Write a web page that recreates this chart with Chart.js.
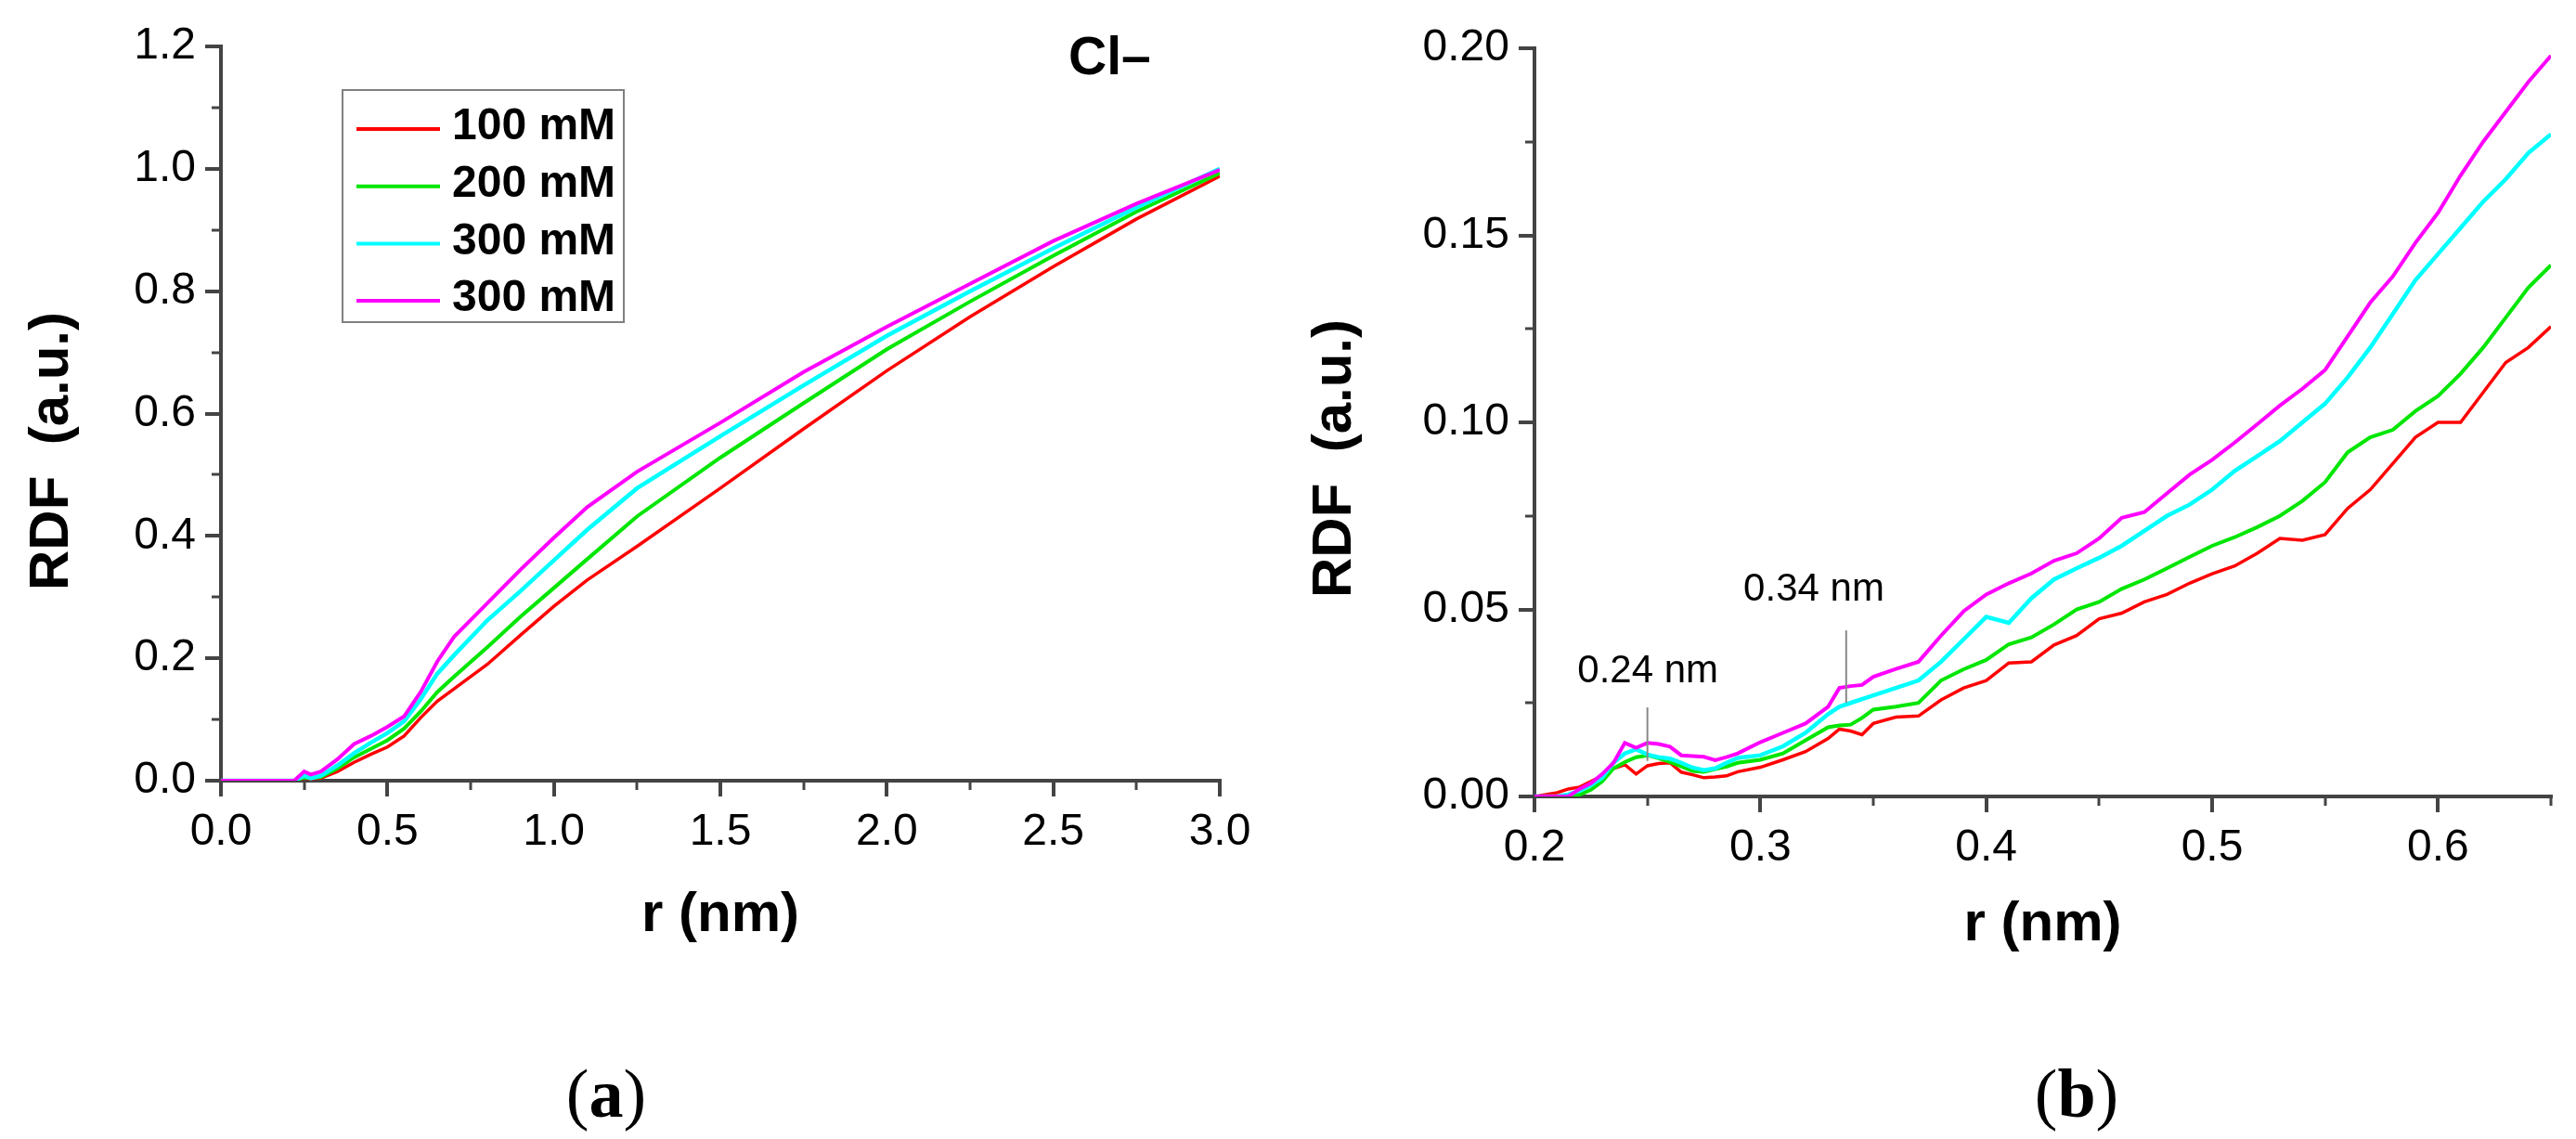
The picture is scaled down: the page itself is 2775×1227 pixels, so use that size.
<!DOCTYPE html>
<html>
<head>
<meta charset="utf-8">
<script src="https://cdn.jsdelivr.net/npm/chart.js@4.4.1/dist/chart.umd.min.js"></script>
<style>
  body { margin: 0; background: #fff; width: 2775px; height: 1227px; position: relative; overflow: hidden; }
  canvas { position: absolute; top: 0; }
  #chartA { left: 0; }
  #chartB { left: 1400px; }
  .cap { position: absolute; top: 1141px; width: 300px; text-align: center;
         font-family: 'Liberation Serif', 'Times New Roman', serif; font-size: 74px; line-height: 74px; color: #000; }
</style>
</head>
<body>
<canvas id="chartA" width="1400" height="1227"></canvas>
<canvas id="chartB" width="1375" height="1227"></canvas>
<div class="cap" style="left:503px">(<b>a</b>)</div>
<div class="cap" style="left:2087px">(<b>b</b>)</div>
<script>
// series names / colours (legend order)
const labels = ['100 mM', '200 mM', '300 mM', '300 mM']
const colors = ['#ff0000', '#00e600', '#00ffff', '#ff00ff']
const widths = [3.5, 4, 4.5, 4]

// (a) full range, r in nm
const rA = [0, 0.2, 0.22, 0.25, 0.27, 0.3, 0.35, 0.4, 0.45, 0.5, 0.55, 0.6, 0.65, 0.7, 0.8, 0.9,
  1.0, 1.1, 1.25, 1.5, 1.75, 2.0, 2.25, 2.5, 2.75, 3.0]
const a100 = [0, 0, 0, 0.004, 0.003, 0.004, 0.015, 0.03, 0.043, 0.055, 0.073, 0.103, 0.13, 0.15, 0.19, 0.238,
  0.285, 0.328, 0.383, 0.478, 0.575, 0.67, 0.758, 0.84, 0.918, 0.988]
const a200 = [0, 0, 0, 0.005, 0.004, 0.006, 0.02, 0.038, 0.052, 0.066, 0.085, 0.113, 0.145, 0.17, 0.218, 0.268,
  0.315, 0.362, 0.432, 0.528, 0.617, 0.705, 0.783, 0.858, 0.93, 0.993]
const a300 = [0, 0, 0, 0.008, 0.004, 0.008, 0.025, 0.045, 0.062, 0.078, 0.097, 0.133, 0.175, 0.205, 0.262, 0.31,
  0.36, 0.41, 0.478, 0.563, 0.646, 0.727, 0.8, 0.87, 0.937, 1.0]
const a300b = [0, 0, 0, 0.015, 0.01, 0.015, 0.035, 0.06, 0.073, 0.088, 0.105, 0.145, 0.195, 0.235, 0.29, 0.345,
  0.397, 0.447, 0.505, 0.585, 0.668, 0.742, 0.812, 0.882, 0.943, 0.998]

// (b) zoom on the first shells
const rB = [0.2, 0.21, 0.215, 0.22, 0.225, 0.23, 0.235, 0.24, 0.245, 0.25, 0.255, 0.26, 0.265, 0.27, 0.275, 0.28,
  0.285, 0.29, 0.3, 0.31, 0.32, 0.33, 0.335, 0.34, 0.345, 0.35, 0.36, 0.37, 0.38, 0.39, 0.4, 0.41, 0.42, 0.43,
  0.44, 0.45, 0.46, 0.47, 0.48, 0.49, 0.5, 0.51, 0.52, 0.53, 0.54, 0.55, 0.56, 0.57, 0.58, 0.59, 0.6, 0.61,
  0.62, 0.63, 0.64, 0.65]
const b100 = [0, 0.001, 0.002, 0.0025, 0.004, 0.0055, 0.0075, 0.0085, 0.006, 0.0082, 0.0088, 0.009, 0.0065, 0.0058, 0.005, 0.0052,
  0.0055, 0.0066, 0.0078, 0.0098, 0.012, 0.0155, 0.018, 0.0175, 0.0165, 0.0195, 0.0212, 0.0215, 0.0258, 0.029, 0.031, 0.0357, 0.036, 0.0405,
  0.043, 0.0475, 0.049, 0.052, 0.054, 0.057, 0.0595, 0.0616, 0.065, 0.069, 0.0685, 0.07, 0.077, 0.082, 0.089, 0.096, 0.1, 0.1,
  0.108, 0.116, 0.12, 0.1256]
const b200 = [0, 0, 0, 0.0005, 0.0018, 0.004, 0.0075, 0.0092, 0.0105, 0.011, 0.0102, 0.0092, 0.008, 0.0068, 0.0066, 0.0073,
  0.008, 0.009, 0.0098, 0.0115, 0.015, 0.0185, 0.019, 0.0192, 0.021, 0.0232, 0.024, 0.025, 0.031, 0.034, 0.0365, 0.0407, 0.0425, 0.046,
  0.05, 0.052, 0.0555, 0.058, 0.061, 0.064, 0.067, 0.0693, 0.072, 0.075, 0.079, 0.084, 0.092, 0.096, 0.098, 0.103, 0.107, 0.113,
  0.12, 0.128, 0.136, 0.142]
const b300 = [0, 0, 0.0005, 0.0015, 0.003, 0.005, 0.009, 0.0115, 0.0126, 0.0112, 0.0105, 0.0101, 0.009, 0.0077, 0.007, 0.0075,
  0.009, 0.0103, 0.011, 0.0134, 0.017, 0.022, 0.024, 0.025, 0.026, 0.027, 0.029, 0.031, 0.036, 0.042, 0.048, 0.0464, 0.053, 0.058,
  0.061, 0.0638, 0.067, 0.071, 0.075, 0.078, 0.082, 0.087, 0.091, 0.095, 0.1, 0.105, 0.112, 0.12, 0.129, 0.138, 0.145, 0.152,
  0.159, 0.165, 0.172, 0.177]
const b300b = [0, 0, 0, 0.002, 0.0035, 0.006, 0.009, 0.0143, 0.013, 0.0143, 0.014, 0.0133, 0.011, 0.0108, 0.0106, 0.0097,
  0.0105, 0.0115, 0.0145, 0.017, 0.0195, 0.024, 0.029, 0.0295, 0.0298, 0.032, 0.0341, 0.036, 0.043, 0.0495, 0.054, 0.057, 0.0596, 0.063,
  0.065, 0.069, 0.0745, 0.076, 0.081, 0.086, 0.09, 0.0946, 0.0995, 0.1045, 0.109, 0.114, 0.123, 0.132, 0.139, 0.148, 0.156, 0.166,
  0.175, 0.183, 0.191, 0.198]

// ticks
const xTicksA = [0, 0.5, 1.0, 1.5, 2.0, 2.5, 3.0]
const xMinorA = [0.25, 0.75, 1.25, 1.75, 2.25, 2.75]
const yTicksA = [0, 0.2, 0.4, 0.6, 0.8, 1.0, 1.2]
const yMinorA = [0.1, 0.3, 0.5, 0.7, 0.9, 1.1]
const xTicksB = [0.2, 0.3, 0.4, 0.5, 0.6]
const xMinorB = [0.25, 0.35, 0.45, 0.55, 0.65]
const yTicksB = [0, 0.05, 0.10, 0.15, 0.20]
const yMinorB = [0.025, 0.075, 0.125, 0.175]

// peak markers in (b)
const peakText = ['0.24 nm', '0.34 nm']
const peakAt = [0.25, 0.338]

const axisColor = '#444'
const sans = "'Liberation Sans', Arial, sans-serif"
const tickFont = { family: sans, size: 48 }

const toPoints = (xs, ys) => xs.map((x, i) => ({ x: x, y: ys[i] }))

const makeSets = (xs, series) => series.map((ys, i) => ({
  label: labels[i],
  data: toPoints(xs, ys),
  borderColor: colors[i],
  backgroundColor: colors[i],
  borderWidth: widths[i],
  pointRadius: 0,
  tension: 0,
  order: 3 - i
}))

const axis = (min, max, ticks, digits, fit) => ({
  type: 'linear',
  min: min,
  max: max,
  afterBuildTicks: s => { s.ticks = ticks.map(v => ({ value: v })) },
  afterFit: fit,
  ticks: { callback: v => Number(v).toFixed(digits), font: tickFont, color: '#000', padding: 10 },
  grid: { drawOnChartArea: false, tickLength: 17, lineWidth: 4, tickColor: axisColor },
  border: { color: axisColor, width: 4 }
})

const drawMinor = (chart, xMinor, yMinor) => {
  const { ctx, chartArea, scales } = chart
  ctx.save()
  ctx.strokeStyle = axisColor
  ctx.lineWidth = 3
  xMinor.forEach(v => {
    const px = Math.round(scales.x.getPixelForValue(v))
    ctx.beginPath()
    ctx.moveTo(px, chartArea.bottom)
    ctx.lineTo(px, chartArea.bottom + 10)
    ctx.stroke()
  })
  yMinor.forEach(v => {
    const py = Math.round(scales.y.getPixelForValue(v))
    ctx.beginPath()
    ctx.moveTo(chartArea.left, py)
    ctx.lineTo(chartArea.left - 10, py)
    ctx.stroke()
  })
  ctx.restore()
}

const drawTitles = (chart, xTitleY, yTitleX, yTitleY) => {
  const { ctx, chartArea } = chart
  ctx.save()
  ctx.fillStyle = '#000'
  ctx.font = 'bold 60px ' + sans
  ctx.textAlign = 'center'
  ctx.textBaseline = 'middle'
  ctx.fillText('r (nm)', (chartArea.left + chartArea.right) / 2, xTitleY)
  ctx.translate(yTitleX, yTitleY)
  ctx.rotate(-Math.PI / 2)
  ctx.fillText('RDF  (a.u.)', 0, 0)
  ctx.restore()
}

const decoA = {
  id: 'decoA',
  afterDraw(chart) {
    const ctx = chart.ctx
    drawMinor(chart, xMinorA, yMinorA)
    drawTitles(chart, 986, 56, 486)

    // legend box
    ctx.save()
    ctx.fillStyle = '#fff'
    ctx.fillRect(369, 97, 303, 250)
    ctx.strokeStyle = '#808080'
    ctx.lineWidth = 2
    ctx.strokeRect(369, 97, 303, 250)
    ctx.font = 'bold 48px ' + sans
    ctx.textAlign = 'left'
    ctx.textBaseline = 'middle'
    chart.data.datasets.forEach((ds, i) => {
      const y = 139 + i * 61.7
      ctx.strokeStyle = ds.borderColor
      ctx.lineWidth = 4
      ctx.beginPath()
      ctx.moveTo(384, y)
      ctx.lineTo(474, y)
      ctx.stroke()
      ctx.fillStyle = '#000'
      ctx.fillText(ds.label, 487, y - 2)
    })
    // ion label
    ctx.font = 'bold 57px ' + sans
    ctx.textBaseline = 'alphabetic'
    ctx.fillText('Cl\u2013', 1151, 80)
    ctx.restore()
  }
}

const decoB = {
  id: 'decoB',
  afterDraw(chart) {
    const { ctx, scales } = chart
    drawMinor(chart, xMinorB, yMinorB)
    drawTitles(chart, 996, 38, 494)

    const lineFrom = [0.0095, 0.025]
    const lineTo = [0.0238, 0.0444]
    const textX = [0.2502, 0.3237]
    const textY = [0.0333, 0.0553]
    ctx.save()
    ctx.strokeStyle = '#888'
    ctx.lineWidth = 2
    ctx.fillStyle = '#000'
    ctx.font = '42px ' + sans
    ctx.textAlign = 'center'
    ctx.textBaseline = 'middle'
    peakAt.forEach((p, i) => {
      const px = scales.x.getPixelForValue(p)
      ctx.beginPath()
      ctx.moveTo(px, scales.y.getPixelForValue(lineFrom[i]))
      ctx.lineTo(px, scales.y.getPixelForValue(lineTo[i]))
      ctx.stroke()
      ctx.fillText(peakText[i], scales.x.getPixelForValue(textX[i]), scales.y.getPixelForValue(textY[i]))
    })
    ctx.restore()
  }
}

const baseOptions = (scales, padding) => ({
  responsive: false,
  animation: false,
  devicePixelRatio: 1,
  layout: { padding: padding },
  plugins: { legend: { display: false }, tooltip: { enabled: false } },
  scales: scales
})

new Chart(document.getElementById('chartA').getContext('2d'), {
  type: 'line',
  data: { datasets: makeSets(rA, [a100, a200, a300, a300b]) },
  options: baseOptions({
    x: axis(0, 3, xTicksA, 1, s => { s.height = 386 }),
    y: axis(0, 1.2, yTicksA, 1, s => { s.width = 238 })
  }, { left: 0, top: 50, right: 86, bottom: 0 }),
  plugins: [decoA]
})

new Chart(document.getElementById('chartB').getContext('2d'), {
  type: 'line',
  data: { datasets: makeSets(rB, [b100, b200, b300, b300b]) },
  options: baseOptions({
    x: axis(0.2, 0.65, xTicksB, 1, s => { s.height = 369 }),
    y: axis(0, 0.2, yTicksB, 2, s => { s.width = 253 })
  }, { left: 0, top: 52, right: 27, bottom: 0 }),
  plugins: [decoB]
})
</script>
</body>
</html>
